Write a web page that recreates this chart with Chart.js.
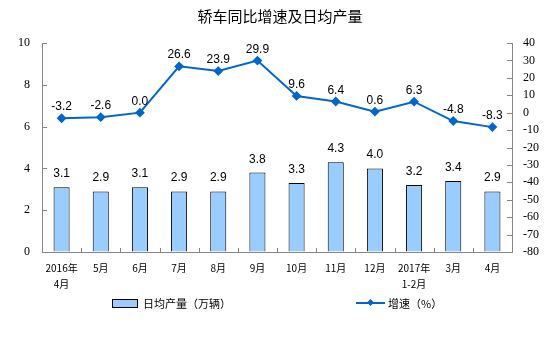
<!DOCTYPE html>
<html>
<head>
<meta charset="utf-8">
<script src="https://cdn.jsdelivr.net/npm/chart.js@4/dist/chart.umd.min.js"></script>
<style>
  body { margin: 0; background: #fff; }
  #wrap { position: relative; width: 554px; height: 344px; }
  #title { position: absolute; top: 5px; left: 0; width: 560px; text-align: center;
    font: 15px "Noto Sans CJK SC", sans-serif; color: #000; }
  .lg { position: absolute; top: 295px; height: 16px; font: 11px "Noto Sans CJK SC", sans-serif; color: #000;
    display: flex; align-items: center; }
  .box { width: 24px; height: 7px; background: #99ccff; border: 1px solid #000; margin-right: 5px; }
  .ln { position: relative; width: 29px; height: 2px; background: #0066cc; margin-right: 3px; }
  .ln::after { content: ""; position: absolute; left: 12px; top: -2px; width: 5px; height: 5px;
    background: #0066cc; transform: rotate(45deg); }
</style>
</head>
<body>
<div id="wrap">
  <div id="title">轿车同比增速及日均产量</div>
  <canvas id="chart" width="554" height="344"></canvas>
  <div class="lg" style="left:112px"><span class="box"></span>日均产量（万辆）</div>
  <div class="lg" style="left:356px"><span class="ln"></span>增速（%）</div>
</div>
<script>
const LABELS = [["2016年", "4月"], "5月", "6月", "7月", "8月", "9月", "10月", "11月", "12月", ["2017年", "1-2月"], "3月", "4月"];
const OUTPUT = [3.1, 2.9, 3.1, 2.9, 2.9, 3.8, 3.3, 4.3, 4.0, 3.2, 3.4, 2.9];
const GROWTH = [-3.2, -2.6, 0.0, 26.6, 23.9, 29.9, 9.6, 6.4, 0.6, 6.3, -4.8, -8.3];

const AXIS_GRAY = "#868686";

// value labels above bars and points
const valueLabels = {
  id: "valueLabels",
  afterDatasetsDraw(c) {
    const ctx = c.ctx;
    ctx.save();
    ctx.fillStyle = "#000";
    ctx.font = "12px 'Liberation Sans', Arial, sans-serif";
    ctx.textAlign = "center";
    ctx.textBaseline = "alphabetic";
    c.data.datasets.forEach((ds, i) => {
      c.getDatasetMeta(i).data.forEach((el, j) => {
        const off = ds.type === "line" ? 8 : 10;
        ctx.fillText(ds.data[j].toFixed(1), el.x, el.y - off);
      });
    });
    ctx.restore();
  }
};

// excel-style tick marks pointing into the plot
const innerTicks = {
  id: "innerTicks",
  afterDraw(c) {
    const ctx = c.ctx;
    const { x, y, y1 } = c.scales;
    ctx.save();
    ctx.strokeStyle = AXIS_GRAY;
    ctx.lineWidth = 1;
    ctx.beginPath();
    y.ticks.forEach(t => {
      const py = Math.round(y.getPixelForValue(t.value)) + 0.5;
      ctx.moveTo(y.right, py); ctx.lineTo(y.right + 5, py);
    });
    y1.ticks.forEach(t => {
      const py = Math.round(y1.getPixelForValue(t.value)) + 0.5;
      ctx.moveTo(y1.left, py); ctx.lineTo(y1.left - 5, py);
    });
    const step = x.width / LABELS.length;
    for (let i = 1; i < LABELS.length; i++) {
      const px = Math.round(x.getPixelForValue(i) - step / 2) + 0.5;
      ctx.moveTo(px, x.top); ctx.lineTo(px, x.top - 4);
    }
    ctx.stroke();
    ctx.restore();
  }
};

const tickFont = { family: "'Liberation Serif', 'Times New Roman', serif", size: 12 };

new Chart(document.getElementById("chart"), {
  data: {
    labels: LABELS,
    datasets: [
      { type: "line", label: "增速（%）", data: GROWTH, yAxisID: "y1", borderColor: "#0066cc", backgroundColor: "#0066cc",
        borderWidth: 2, pointStyle: "rectRot", pointRadius: 3.5, order: 0 },
      { type: "bar", label: "日均产量（万辆）", data: OUTPUT, yAxisID: "y", backgroundColor: "#99ccff", borderColor: "#000",
        borderWidth: 1, barPercentage: 0.41, categoryPercentage: 1, order: 1 }
    ]
  },
  options: {
    responsive: false,
    animation: false,
    layout: { padding: { top: 43, left: 0, right: 0, bottom: 0 } },
    plugins: { legend: { display: false }, tooltip: { enabled: false } },
    scales: {
      x: {
        grid: { drawOnChartArea: false, drawTicks: false },
        border: { color: AXIS_GRAY },
        ticks: { color: "#000", font: { family: "'Noto Sans CJK SC', sans-serif", size: 10, lineHeight: 1.6 }, maxRotation: 0, autoSkip: false, padding: 8 },
        afterFit(a) { a.height = 92; }
      },
      y: {
        position: "left", min: 0, max: 10,
        grid: { drawOnChartArea: false, drawTicks: false },
        border: { color: AXIS_GRAY },
        ticks: { stepSize: 2, color: "#000", font: tickFont, padding: 12 },
        afterFit(a) { a.width = 42; }
      },
      y1: {
        position: "right", min: -80, max: 40,
        grid: { drawOnChartArea: false, drawTicks: false },
        border: { color: AXIS_GRAY },
        ticks: { stepSize: 10, color: "#000", font: tickFont, padding: 11 },
        afterFit(a) { a.width = 42; }
      }
    }
  },
  plugins: [valueLabels, innerTicks]
});
</script>
</body>
</html>
